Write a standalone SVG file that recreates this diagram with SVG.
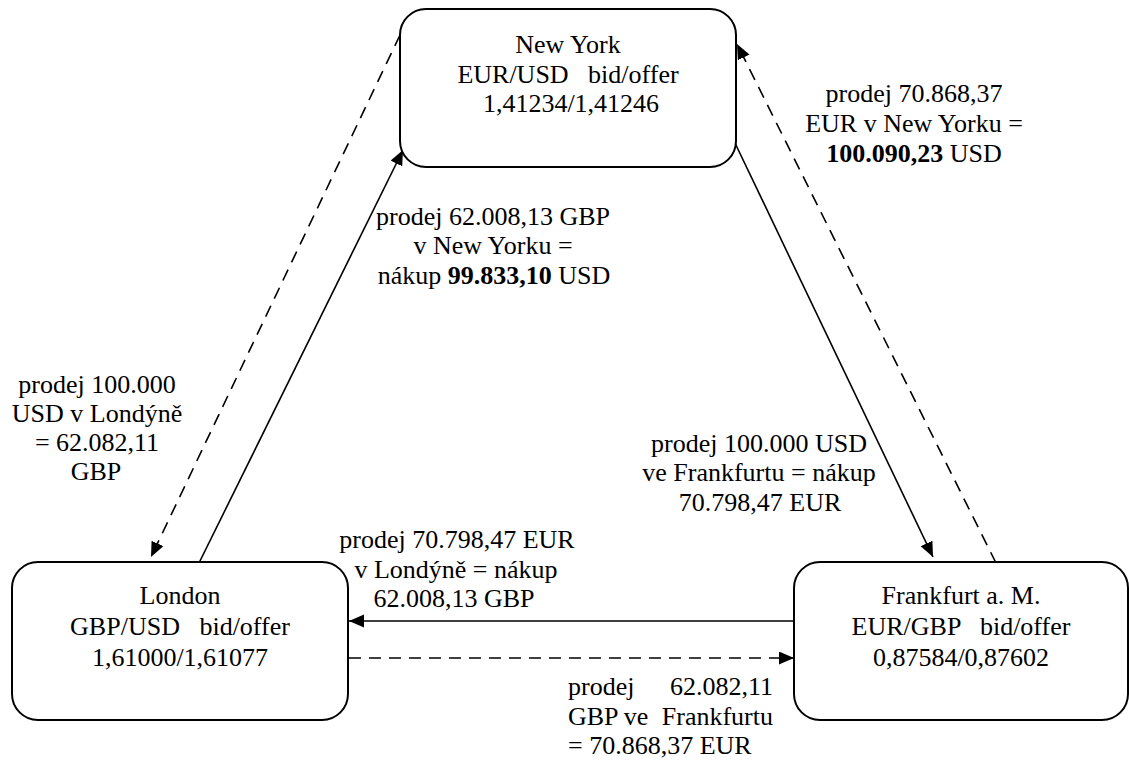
<svg xmlns="http://www.w3.org/2000/svg" width="1129" height="760" viewBox="0 0 1129 760">
<style>
text{font-family:'Liberation Serif','Times New Roman',serif;font-size:26px;fill:#000;white-space:pre}
.c{text-anchor:middle}
.b{font-weight:bold}
.box{fill:#fff;stroke:#000;stroke-width:2}
.ln{fill:none;stroke:#000;stroke-width:1.6}
.d{stroke-dasharray:12 8}
</style>
<defs>
<marker id="ah" markerUnits="userSpaceOnUse" markerWidth="16" markerHeight="14" refX="15" refY="6.5" orient="auto" viewBox="0 0 16 14">
<path d="M0,0 L15,6.5 L0,13 z" fill="#000" stroke="none"/>
</marker>
</defs>
<rect width="1129" height="760" fill="#fff"/>
<g id="connectors">
<path class="ln d" d="M400,35 L151,557" marker-end="url(#ah)"/>
<path class="ln" d="M199,563 L403,150" marker-end="url(#ah)"/>
<path class="ln" d="M735,143 L933,557" marker-end="url(#ah)"/>
<path class="ln d" d="M996,563 L737,44" marker-end="url(#ah)"/>
<path class="ln" d="M794,621 L349,621" marker-end="url(#ah)"/>
<path class="ln d" d="M349,658 L794,658" marker-end="url(#ah)"/>
</g>
<g id="newyork">
<rect class="box" x="400" y="9" width="336" height="158" rx="26" ry="26"/>
<text class="c" x="568" y="53">New York</text>
<text class="c" x="568" y="83">EUR/USD   bid/offer</text>
<text class="c" x="571" y="112">1,41234/1,41246</text>
</g>
<g id="london">
<rect class="box" x="12" y="562" width="336" height="158" rx="26" ry="26"/>
<text class="c" x="180" y="604">London</text>
<text class="c" x="180" y="635">GBP/USD   bid/offer</text>
<text class="c" x="180" y="666">1,61000/1,61077</text>
</g>
<g id="frankfurt">
<rect class="box" x="794" y="562" width="334" height="158" rx="26" ry="26"/>
<text class="c" x="961" y="604">Frankfurt a. M.</text>
<text class="c" x="961" y="635">EUR/GBP   bid/offer</text>
<text class="c" x="961" y="666">0,87584/0,87602</text>
</g>
<g id="labels">
<text class="c" x="914" y="102">prodej 70.868,37</text>
<text class="c" x="914" y="132">EUR v New Yorku =</text>
<text class="c" x="914" y="162"><tspan class="b">100.090,23</tspan> USD</text>
<text class="c" x="493" y="225">prodej 62.008,13 GBP</text>
<text class="c" x="493" y="254">v New Yorku =</text>
<text class="c" x="494" y="284">nákup <tspan class="b">99.833,10</tspan> USD</text>
<text class="c" x="97" y="393">prodej 100.000</text>
<text class="c" x="97" y="422">USD v Londýně</text>
<text class="c" x="97" y="451">= 62.082,11</text>
<text class="c" x="96" y="480">GBP</text>
<text class="c" x="759" y="452">prodej 100.000 USD</text>
<text class="c" x="759" y="481">ve Frankfurtu = nákup</text>
<text class="c" x="760" y="511">70.798,47 EUR</text>
<text class="c" x="457" y="548">prodej 70.798,47 EUR</text>
<text class="c" x="456" y="578">v Londýně = nákup</text>
<text class="c" x="454" y="607">62.008,13 GBP</text>
<text x="568" y="695">prodej<tspan x="773" text-anchor="end">62.082,11</tspan></text>
<text x="568" y="725">GBP<tspan x="636" text-anchor="middle">ve</tspan><tspan x="773" text-anchor="end">Frankfurtu</tspan></text>
<text x="568" y="754">= 70.868,37 EUR</text>
</g>
</svg>
